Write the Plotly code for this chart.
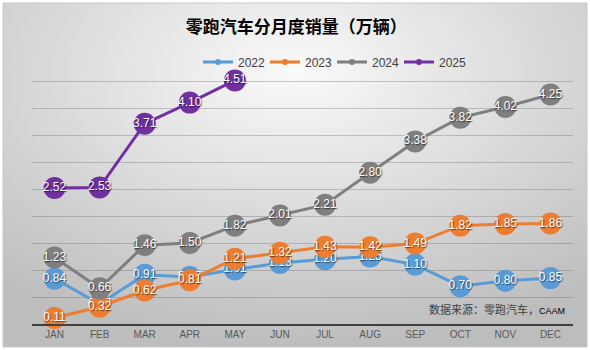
import urllib.parse
import plotly.graph_objects as go

months = ["JAN", "FEB", "MAR", "APR", "MAY", "JUN", "JUL", "AUG", "SEP", "OCT", "NOV", "DEC"]
s2022 = [0.84, 0.37, 0.91, 0.87, 1.01, 1.13, 1.20, 1.25, 1.10, 0.70, 0.80, 0.85]
s2023 = [0.11, 0.32, 0.62, 0.81, 1.21, 1.32, 1.43, 1.42, 1.49, 1.82, 1.85, 1.86]
s2024 = [1.23, 0.66, 1.46, 1.50, 1.82, 2.01, 2.21, 2.80, 3.38, 3.82, 4.02, 4.25]
s2025 = [2.52, 2.53, 3.71, 4.10, 4.51]
series = [("2022", s2022, "#5B9BD5"), ("2023", s2023, "#ED7D31"),
          ("2024", s2024, "#7F7F7F"), ("2025", s2025, "#7030A0")]

W, H = 590, 350
L, R, T, B = 32, 17, 54, 26
pw, ph = W - L - R, H - T - B

fig = go.Figure()
for name, vals, col in series:
    fig.add_trace(go.Scatter(
        x=months[:len(vals)], y=vals, name=name, mode="lines+markers+text",
        line=dict(color=col, width=3),
        marker=dict(color=col, size=22, line=dict(width=0)),
        text=[f"{v:.2f}" for v in vals], textposition="middle center",
        textfont=dict(color="white", size=12, family="Liberation Sans",
                      shadow="1px 1px 1px rgba(0,0,0,0.55)"),
        cliponaxis=False, showlegend=False,
    ))
for name, vals, col in series:
    fig.add_trace(go.Scatter(
        x=[None], y=[None], name=name, mode="lines+markers",
        line=dict(color=col, width=3), marker=dict(color=col, size=6),
        showlegend=True,
    ))

svg = ('<svg xmlns="http://www.w3.org/2000/svg" width="584" height="344" preserveAspectRatio="none">'
       '<defs><radialGradient id="g" cx="50%" cy="20%" r="80%">'
       '<stop offset="0" stop-color="#fafafa"/><stop offset="1" stop-color="#bdbdbd"/>'
       '</radialGradient></defs><rect width="584" height="344" fill="url(#g)"/></svg>')
uri = "data:image/svg+xml;charset=utf-8," + urllib.parse.quote(svg)

def px(x):
    return (x - L) / pw

def py(y):
    return (H - B - y) / ph

fig.add_layout_image(dict(source=uri, xref="paper", yref="paper", x=px(3), y=py(3),
                          sizex=584 / pw, sizey=344 / ph, xanchor="left", yanchor="top",
                          sizing="stretch", layer="below"))
fig.add_shape(type="rect", xref="paper", yref="paper", x0=px(3), x1=px(587), y0=py(347), y1=py(3),
              line=dict(color="#c8c8c8", width=1), layer="below")

fig.add_annotation(text="数据来源：零跑汽车，<span style='font-size:9px;font-family:Liberation Sans;color:#000'>CAAM</span>",
                   xref="paper", yref="paper", x=px(427), y=py(309), xanchor="left", yanchor="middle",
                   showarrow=False, font=dict(size=11, color="#404040", family="Noto Sans CJK SC"))

fig.update_layout(
    width=W, height=H, margin=dict(l=L, r=R, t=T, b=B, autoexpand=False),
    paper_bgcolor="white", plot_bgcolor="rgba(0,0,0,0)",
    title=dict(text="<b>零跑汽车分月度销量（万辆）</b>", x=0.502, xanchor="center",
               y=1 - 27 / H, yref="container", yanchor="middle",
               font=dict(size=17, color="#000000", family="Noto Sans CJK SC")),
    legend=dict(orientation="h", x=px(332), xanchor="center", y=py(62), yanchor="middle",
                font=dict(size=12, color="#404040", family="Liberation Sans"),
                bgcolor="rgba(0,0,0,0)", itemwidth=30, tracegroupgap=0,
                entrywidth=22, entrywidthmode="pixels"),
    showlegend=True,
    xaxis=dict(showgrid=False, showline=True, linecolor="#404040", linewidth=2,
               ticks="", ticklabelstandoff=0, automargin=False,
               tickfont=dict(size=10, color="#595959", family="Liberation Sans"),
               range=[-0.5, 11.5], fixedrange=True),
    yaxis=dict(range=[0, 5.0], dtick=0.5, showticklabels=False, showgrid=True,
               gridcolor="rgba(90,90,90,0.3)", gridwidth=1, zeroline=False,
               ticks="", fixedrange=True, automargin=False),
    font=dict(family="Liberation Sans"),
)
fig.write_html("out.html")
